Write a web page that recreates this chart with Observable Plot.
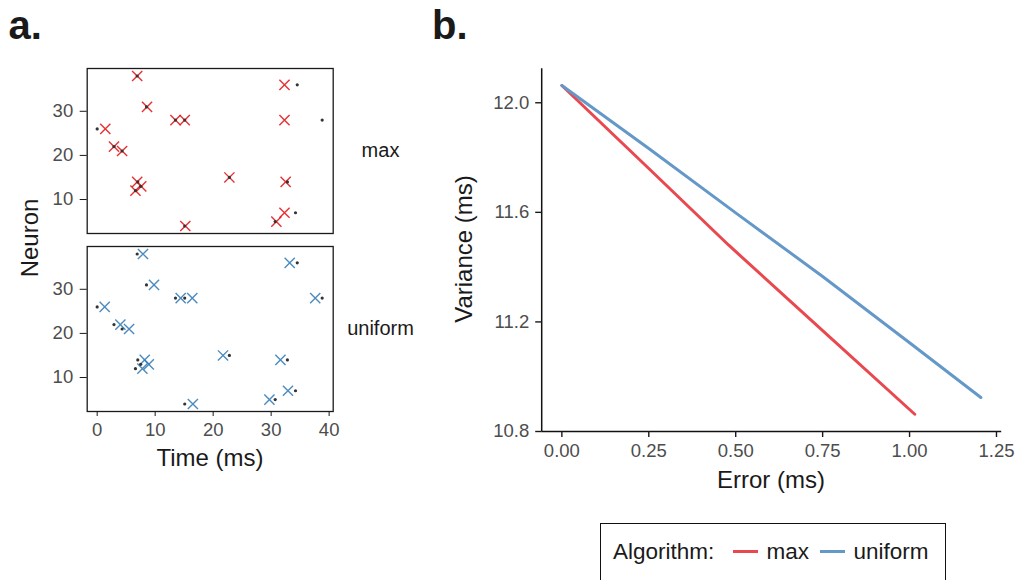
<!DOCTYPE html>
<html>
<head>
<meta charset="utf-8">
<script src="https://cdn.jsdelivr.net/npm/d3@7"></script>
<script src="https://cdn.jsdelivr.net/npm/@observablehq/plot@0.6"></script>
<style>
  html, body { margin: 0; padding: 0; background: #fff; width: 1019px; height: 580px; overflow: hidden;
    font-family: "Liberation Sans", Arial, Helvetica, sans-serif; }
  #root { position: relative; width: 1019px; height: 580px; overflow: hidden; }
  .abs { position: absolute; line-height: 1; white-space: nowrap; color: #1a1a1a; }
  .center { transform: translate(-50%, -50%); }
  .rot { transform: translate(-50%, -50%) rotate(-90deg); }
</style>
</head>
<body>
<div id="root"></div>
<script>
// ---------- data ----------
const algorithms = ["max", "uniform"];
const crossColors = ["#E41A1C", "#377EB8"];
const lineColors = ["#E9484F", "#6498C8"];

// panel a: spike raster
const neuronIds      = [38, 36, 31, 26, 28, 28, 28, 22, 21, 15, 14, 14, 13, 12, 7, 5, 4];
const observedTimes  = [6.9, 34.5, 8.5, 0.0, 13.5, 15.1, 38.8, 2.9, 4.3, 22.8, 32.8, 7.0, 7.5, 6.6, 34.2, 30.7, 15.1];
const maxTimes       = [6.9, 32.3, 8.6, 1.4, 13.5, 15.1, 32.3, 2.9, 4.3, 22.8, 32.5, 6.9, 7.6, 6.6, 32.3, 30.9, 15.2];
const uniformTimes   = [7.9, 33.2, 9.8, 1.3, 14.4, 16.4, 37.6, 4.0, 5.5, 21.7, 31.6, 8.2, 8.9, 7.8, 32.9, 29.7, 16.5];
const timeTicks   = [0, 10, 20, 30, 40];
const neuronTicks = [10, 20, 30];

// panel b: variance vs error
const errorMax        = [0, 0.25, 0.48, 0.75, 1.015];
const varianceMax     = [12.063, 11.76, 11.48, 11.168, 10.863];
const errorUniform    = [0, 0.25, 0.5, 0.75, 1.0, 1.205];
const varianceUniform = [12.063, 11.833, 11.598, 11.366, 11.124, 10.924];
const errorTicks    = [0, 0.25, 0.5, 0.75, 1.0, 1.25];
const varianceTicks = [10.8, 11.2, 11.6, 12.0];
const errorDomain    = [-0.058, 1.265];
const varianceDomain = [10.8, 12.124];

// ---------- build tables ----------
const crossRows = [];
const obsRows = [];
neuronIds.forEach((n, i) => {
  crossRows.push({alg: "max", t: maxTimes[i], n});
  crossRows.push({alg: "uniform", t: uniformTimes[i], n});
  obsRows.push({alg: "max", t: observedTimes[i], n});
  obsRows.push({alg: "uniform", t: observedTimes[i], n});
});
const lineRows = [
  ...errorMax.map((e, i) => ({alg: "max", err: e, v: varianceMax[i]})),
  ...errorUniform.map((e, i) => ({alg: "uniform", err: e, v: varianceUniform[i]}))
];

const FONT = '"Liberation Sans", Arial, Helvetica, sans-serif';
const root = document.getElementById("root");

function place(el, left, top) {
  el.style.position = "absolute";
  el.style.left = left + "px";
  el.style.top = top + "px";
  root.appendChild(el);
}
function label(text, cx, cy, size, cls, weight) {
  const d = document.createElement("div");
  d.className = "abs " + cls;
  d.textContent = text;
  d.style.left = cx + "px";
  d.style.top = cy + "px";
  d.style.fontSize = size + "px";
  if (weight) d.style.fontWeight = weight;
  root.appendChild(d);
  return d;
}

// ---------- panel a ----------
const chartA = Plot.plot({
  width: 430, height: 430,
  marginLeft: 86.7, marginRight: 97.3, marginTop: 17.3, marginBottom: 69.3,
  style: {fontFamily: FONT, fontSize: "18.5px", background: "transparent", overflow: "visible"},
  x: {domain: [-1.72, 40.7]},
  y: {domain: [2.3, 39.7]},
  fy: {domain: algorithms, paddingInner: 0.0746, paddingOuter: 0},
  color: {domain: algorithms, range: crossColors},
  marks: [
    Plot.frame({stroke: "#1a1a1a", strokeWidth: 1.3}),
    Plot.dot(crossRows, {x: "t", y: "n", fy: "alg", symbol: "times", r: 4.7, stroke: "alg", strokeWidth: 1.4, strokeOpacity: 0.9}),
    Plot.dot(obsRows, {x: "t", y: "n", fy: "alg", r: 1.6, fill: "#333"}),
    Plot.axisX({ticks: timeTicks, tickSize: 5, tickPadding: 6, stroke: "#1a1a1a", fill: "#4d4d4d", fontSize: 18.5, label: null}),
    Plot.axisY({ticks: neuronTicks, tickSize: 7, tickPadding: 7, stroke: "#1a1a1a", fill: "#4d4d4d", fontSize: 18.5, label: null}),
    Plot.axisFy({anchor: "right", tickSize: 0, tickPadding: 47.3, textAnchor: "middle", fontSize: 20, fill: "#1a1a1a", label: null})
  ]
});
place(chartA, 0, 50);

// ---------- panel b ----------
const chartB = Plot.plot({
  width: 589, height: 480,
  marginLeft: 111.2, marginRight: 17.8, marginTop: 18.3, marginBottom: 99,
  style: {fontFamily: FONT, fontSize: "18.5px", background: "transparent", overflow: "visible"},
  x: {domain: errorDomain},
  y: {domain: varianceDomain},
  color: {domain: algorithms, range: lineColors},
  marks: [
    Plot.line(lineRows, {x: "err", y: "v", z: "alg", stroke: "alg", strokeWidth: 3}),
    Plot.ruleX([errorDomain[0]], {stroke: "#111", strokeWidth: 1.5}),
    Plot.ruleY([varianceDomain[0]], {stroke: "#111", strokeWidth: 1.5}),
    Plot.axisX({ticks: errorTicks, tickFormat: d3.format(".2f"), tickSize: 6, tickPadding: 6,
      stroke: "#1a1a1a", strokeWidth: 1.4, fill: "#4d4d4d", fontSize: 18.5, label: null}),
    Plot.axisY({ticks: varianceTicks, tickFormat: d3.format(".1f"), tickSize: 6, tickPadding: 6.5,
      stroke: "#1a1a1a", strokeWidth: 1.4, fill: "#4d4d4d", fontSize: 18.5, label: null})
  ]
});
place(chartB, 430, 50);

// ---------- titles & axis titles ----------
label("a.", 8.5, 5, 40, "", "bold");
label("b.", 432, 5, 40, "", "bold");
label("Neuron", 30, 238, 24, "rot");
label("Time (ms)", 210, 458, 24, "center");
label("Variance (ms)", 464, 249, 24, "rot");
label("Error (ms)", 771, 480, 24, "center");

// ---------- legend ----------
const box = document.createElement("div");
box.style.cssText = "position:absolute;left:600px;top:522.7px;width:346px;height:90px;border:1.5px solid #111;box-sizing:border-box;background:#fff;";
root.appendChild(box);
const legTop = 540.5;
label("Algorithm:", 613, legTop, 22.5, "");
const swatchX = [733, 820];
const textX = [766.5, 853.5];
algorithms.forEach((a, i) => {
  const s = document.createElement("div");
  s.style.cssText = `position:absolute;left:${swatchX[i]}px;top:550.2px;width:25px;height:3px;background:${lineColors[i]};`;
  root.appendChild(s);
  label(a, textX[i], legTop, 22.5, "");
});
</script>
</body>
</html>
